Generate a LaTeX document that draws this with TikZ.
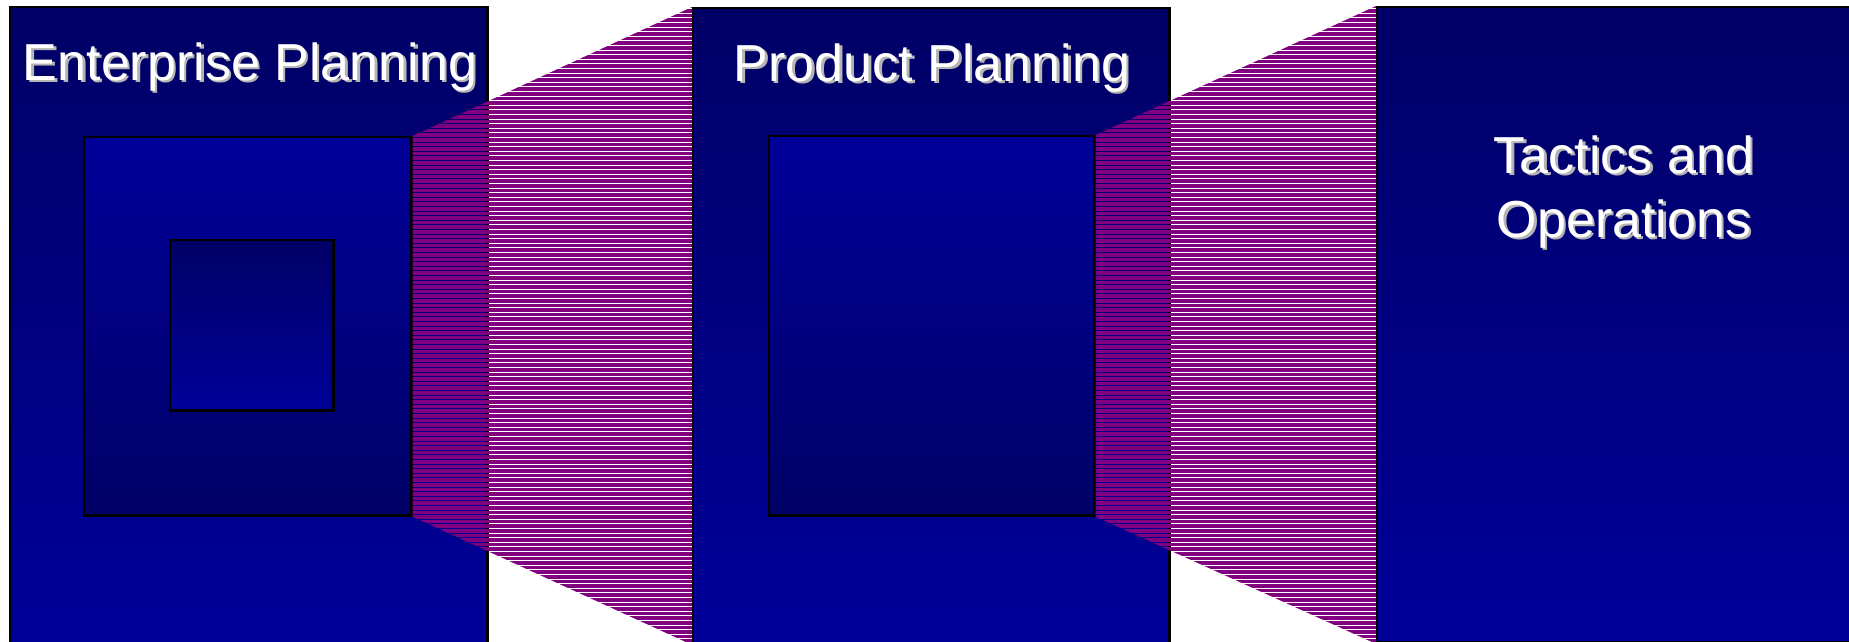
\documentclass[tikz,border=0pt]{standalone}
\usepackage{fontspec}
\setmainfont{Liberation Sans}
\definecolor{navyDark}{HTML}{000066}
\definecolor{navyLight}{HTML}{000099}
\definecolor{hatchPurple}{HTML}{800080}
\definecolor{shadowGray}{HTML}{B4B4B4}
\newcommand{\shadowed}[1]{\rlap{\hspace{0.7pt}\raisebox{-0.7pt}{\color{shadowGray}#1}}#1}

\begin{document}
\begin{tikzpicture}[x=0.01cm,y=-0.01cm,
  panel/.style={draw=black,line width=0.7pt,inner sep=0pt,anchor=north west,top color=navyDark,bottom color=navyLight},
  frame/.style={draw=black,line width=0.7pt,inner sep=0pt,anchor=north west,top color=navyLight,bottom color=navyDark},
  heading/.style={text=white,font=\fontsize{14.8}{18.2}\selectfont,align=center,anchor=base,inner sep=0pt}
]
  \useasboundingbox (0,0) rectangle (1849,641);
  \clip (0,0) rectangle (1849,641);
  % enterprise level
  \node[panel,minimum width=4.77cm,minimum height=6.40cm] (enterprise) at (9,6) {};
  \node[frame,minimum width=3.27cm,minimum height=3.78cm] (enterpriseMid) at (83,136) {};
  \node[panel,minimum width=1.63cm,minimum height=1.70cm] (enterpriseCore) at (169,239) {};
  % product level
  \node[panel,minimum width=4.76cm,minimum height=6.35cm] (product) at (692,7) {};
  \node[frame,minimum width=3.25cm,minimum height=3.79cm] (productMid) at (768,135) {};
  % tactics level
  \node[panel,minimum width=4.83cm,minimum height=6.35cm] (tactics) at (1376,6) {};
  % zoom bands
  \foreach \src/\dst in {enterpriseMid/product,productMid/tactics}{
    \begin{scope}
      \clip (\src.north east) -- (\dst.north west) -- (\dst.south west) -- (\src.south east) -- cycle;
      \foreach \k in {0,...,140}
        \fill[hatchPurple] (0,{\k*4.6}) rectangle (1849,{\k*4.6+3.6});
    \end{scope}
  }
  \node[heading] (enterpriseTitle) at (250,80) {\shadowed{Enterprise Planning}};
  \node[heading] (productTitle) at (932,81) {\shadowed{Product Planning}};
  \node[heading] (tacticsTitle) at (1624,237) {\shadowed{Tactics and}\\\shadowed{Operations}};
\end{tikzpicture}
\end{document}
